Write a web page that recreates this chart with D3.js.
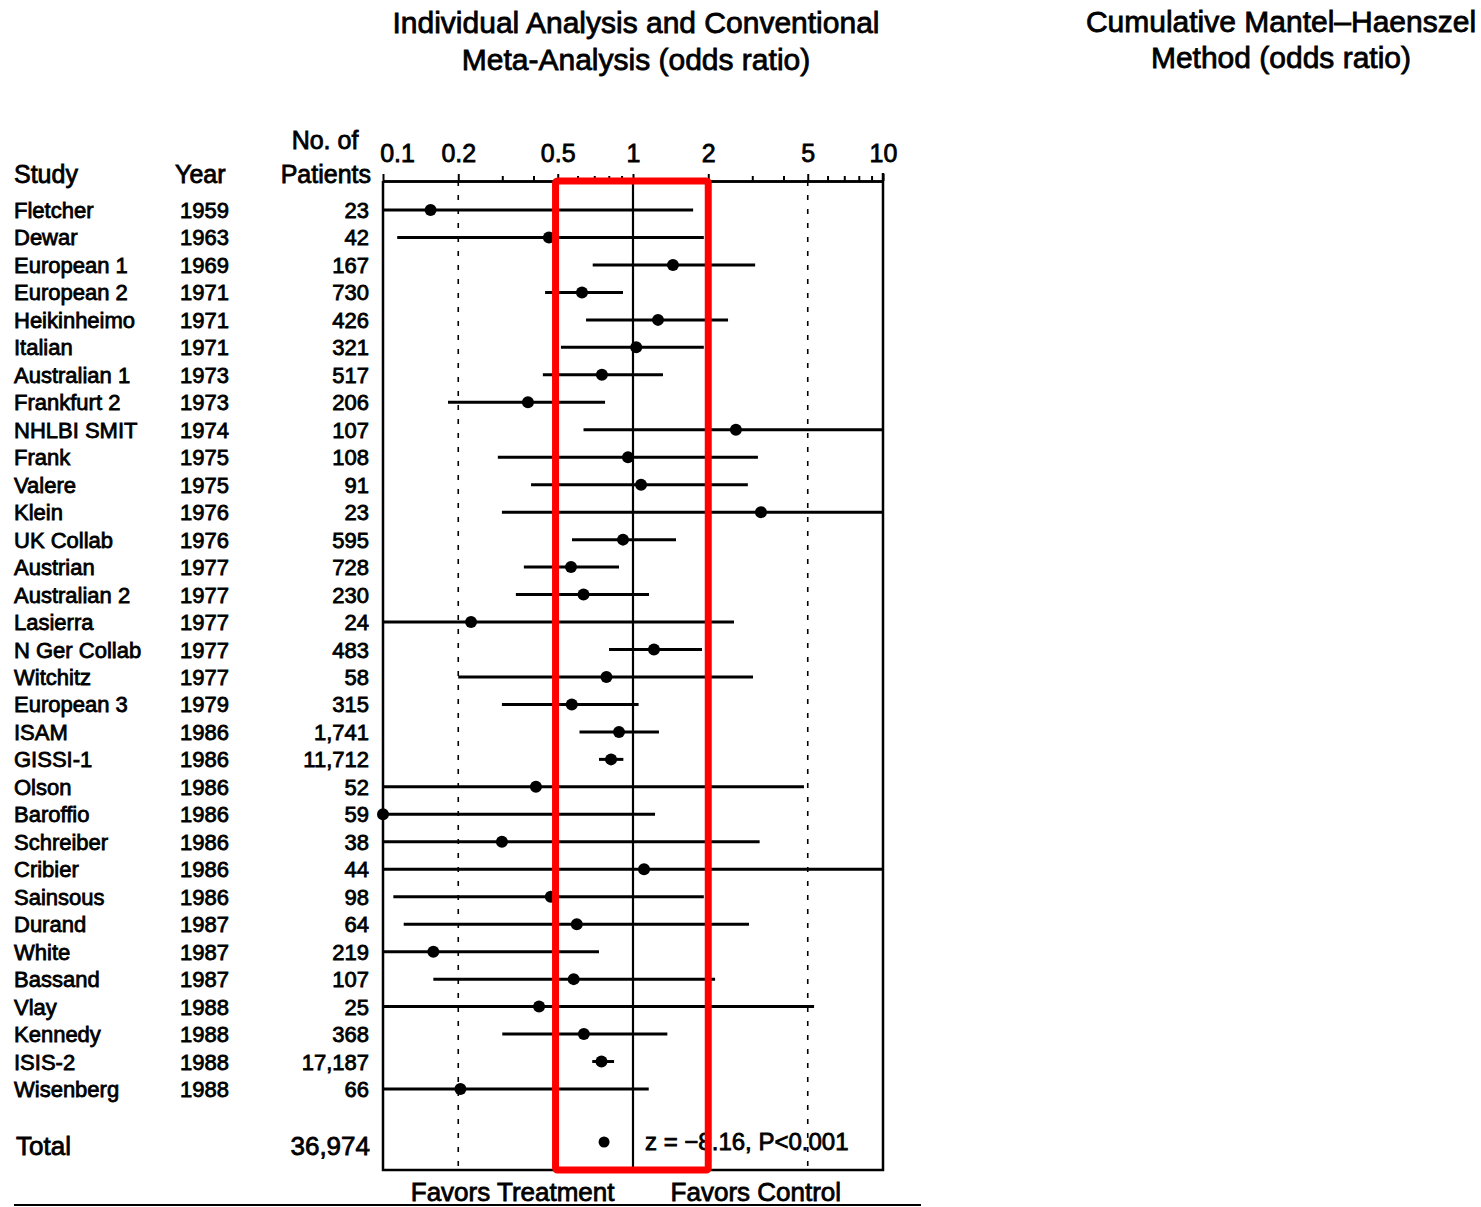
<!DOCTYPE html>
<html>
<head>
<meta charset="utf-8">
<script src="https://d3js.org/d3.v7.min.js"></script>
<style>
  body { margin: 0; background: #fff; }
  text { font-family: "Liberation Sans", Arial, Helvetica, sans-serif; fill: #000; stroke: #000; stroke-width: 0.8px; }
</style>
</head>
<body>
<div id="chart"></div>
<script>
// study rows, top to bottom
var studies = ["Fletcher","Dewar","European 1","European 2","Heikinheimo","Italian","Australian 1","Frankfurt 2",
  "NHLBI SMIT","Frank","Valere","Klein","UK Collab","Austrian","Australian 2","Lasierra","N Ger Collab","Witchitz",
  "European 3","ISAM","GISSI-1","Olson","Baroffio","Schreiber","Cribier","Sainsous","Durand","White","Bassand",
  "Vlay","Kennedy","ISIS-2","Wisenberg"];
var years = ["1959","1963","1969","1971","1971","1971","1973","1973","1974","1975","1975","1976","1976","1977",
  "1977","1977","1977","1977","1979","1986","1986","1986","1986","1986","1986","1986","1987","1987","1987",
  "1988","1988","1988","1988"];
var patients = ["23","42","167","730","426","321","517","206","107","108","91","23","595","728","230","24","483",
  "58","315","1,741","11,712","52","59","38","44","98","64","219","107","25","368","17,187","66"];

// odds ratios with 95% CI (clipped to 0.1 - 10)
var oddsRatio = [0.155,0.461,1.445,0.625,1.259,1.03,0.751,0.380,2.58,0.955,1.077,3.25,0.912,0.565,0.634,0.225,
  1.213,0.783,0.569,0.879,0.817,0.409,0.1,0.299,1.107,0.469,0.596,0.159,0.579,0.421,0.636,0.748,0.204];
var lower = [0.1,0.114,0.69,0.445,0.649,0.515,0.436,0.182,0.634,0.288,0.391,0.299,0.570,0.366,0.340,0.1,
  0.802,0.200,0.299,0.611,0.731,0.1,0.1,0.1,0.1,0.110,0.121,0.1,0.159,0.1,0.30,0.687,0.1];
var upper = [1.74,1.92,3.08,0.912,2.40,1.92,1.318,0.773,10,3.16,2.88,10,1.486,0.879,1.159,2.535,
  1.888,3.02,1.053,1.27,0.915,4.83,1.225,3.21,10,1.92,2.91,0.731,2.13,5.30,1.372,0.84,1.156];

var totalPatients = "36,974";
var totalOR = 0.766;
var totalNote = "z = \u22128.16, P<0.001";

var majorTicks = [0.1,0.2,0.5,1,2,5,10];
var minorTicks = [0.3,0.4,0.6,0.7,0.8,0.9,3,4,6,7,8,9];
var dottedRefs = [0.2,5];
var highlight = [0.49,2];

var width = 1481, height = 1207;
var plotTop = 181, plotBottom = 1170;

var svg = d3.select("#chart")
  .append("svg")
    .attr("width", width)
    .attr("height", height);

// scales
var x = d3.scaleLog()
  .domain([0.1, 10])
  .range([383, 883]);

var y = d3.scalePoint()
  .domain(studies)
  .range([210, 1089]);

var totalY = 1142;

// titles
var titles = svg.append("g")
  .style("font-size", "30px")
  .attr("text-anchor", "middle");
titles.append("text").attr("x", 636).attr("y", 33).text("Individual Analysis and Conventional");
titles.append("text").attr("x", 636).attr("y", 70).text("Meta-Analysis (odds ratio)");
titles.append("text").attr("x", 1281).attr("y", 32).text("Cumulative Mantel\u2013Haenszel");
titles.append("text").attr("x", 1281).attr("y", 68).text("Method (odds ratio)");

// column headers
var head = svg.append("g").style("font-size", "25px");
head.append("text").attr("x", 14).attr("y", 183).text("Study");
head.append("text").attr("x", 175).attr("y", 183).text("Year");
head.append("text").attr("x", 325).attr("y", 149).attr("text-anchor", "middle").text("No. of");
head.append("text").attr("x", 371).attr("y", 183).attr("text-anchor", "end").text("Patients");

// row labels
var rows = svg.append("g").style("font-size", "22px");
rows.selectAll(".study")
  .data(studies)
  .enter().append("text")
    .attr("x", 14)
    .attr("y", function(d) { return y(d) + 8 })
    .text(function(d) { return d });
rows.selectAll(".year")
  .data(studies)
  .enter().append("text")
    .attr("x", 180)
    .attr("y", function(d) { return y(d) + 8 })
    .text(function(d, i) { return years[i] });
rows.selectAll(".pat")
  .data(studies)
  .enter().append("text")
    .attr("x", 369)
    .attr("y", function(d) { return y(d) + 8 })
    .attr("text-anchor", "end")
    .text(function(d, i) { return patients[i] });

// total row
var tot = svg.append("g").style("font-size", "26px");
tot.append("text").attr("x", 16).attr("y", totalY + 13).text("Total");
tot.append("text").attr("x", 370).attr("y", totalY + 13).attr("text-anchor", "end").text(totalPatients);

// top axis
var axisG = svg.append("g")
  .attr("transform", "translate(0," + plotTop + ")");
axisG.call(d3.axisTop(x)
  .tickValues(majorTicks)
  .tickFormat(d3.format(""))
  .tickSize(7)
  .tickSizeOuter(0)
  .tickPadding(12));
axisG.append("g").call(d3.axisTop(x)
  .tickValues(minorTicks)
  .tickFormat("")
  .tickSize(5)
  .tickSizeOuter(0));
axisG.selectAll("path.domain").attr("stroke", "#000").attr("stroke-width", 2.5);
axisG.selectAll(".tick line").attr("stroke", "#000").attr("stroke-width", 2);
axisG.selectAll(".tick text")
  .style("font-size", "25px")
  .style("font-family", "'Liberation Sans', Arial, sans-serif")
  .attr("dx", function(d) { return d === 0.1 ? 14 : 0 });

// frame sides and bottom
svg.append("path")
  .attr("d", "M" + x(0.1) + "," + plotTop + "V" + plotBottom + "H" + x(10) + "V" + (plotTop - 8))
  .attr("fill", "none")
  .attr("stroke", "#000")
  .attr("stroke-width", 2.5);

// reference lines
svg.selectAll(".dotted")
  .data(dottedRefs)
  .enter().append("line")
    .attr("x1", function(d) { return x(d) })
    .attr("x2", function(d) { return x(d) })
    .attr("y1", plotTop)
    .attr("y2", plotBottom)
    .attr("stroke", "#000")
    .attr("stroke-width", 1.6)
    .attr("stroke-dasharray", "5,9");
svg.append("line")
  .attr("x1", x(1)).attr("x2", x(1))
  .attr("y1", plotTop).attr("y2", plotBottom)
  .attr("stroke", "#000")
  .attr("stroke-width", 2.2);

// confidence intervals
svg.selectAll(".ci")
  .data(studies)
  .enter().append("line")
    .attr("x1", function(d, i) { return x(lower[i]) })
    .attr("x2", function(d, i) { return x(upper[i]) })
    .attr("y1", function(d) { return y(d) })
    .attr("y2", function(d) { return y(d) })
    .attr("stroke", "#000")
    .attr("stroke-width", 3);

// point estimates
svg.selectAll(".pt")
  .data(studies)
  .enter().append("circle")
    .attr("cx", function(d, i) { return x(oddsRatio[i]) })
    .attr("cy", function(d) { return y(d) })
    .attr("r", 6)
    .attr("fill", "#000");

svg.append("circle")
  .attr("cx", x(totalOR))
  .attr("cy", totalY)
  .attr("r", 5.5)
  .attr("fill", "#000");

svg.append("text")
  .attr("x", 645)
  .attr("y", totalY + 8)
  .style("font-size", "24px")
  .text(totalNote);

// favors labels and bottom rule
var fav = svg.append("g").style("font-size", "26px").attr("text-anchor", "middle");
fav.append("text").attr("x", x(0.33)).attr("y", 1201).text("Favors Treatment");
fav.append("text").attr("x", x(3.1)).attr("y", 1201).text("Favors Control");
svg.append("line")
  .attr("x1", 14).attr("x2", 921)
  .attr("y1", 1205).attr("y2", 1205)
  .attr("stroke", "#000")
  .attr("stroke-width", 2);

// red highlight box
svg.append("rect")
  .attr("x", x(highlight[0]))
  .attr("y", plotTop)
  .attr("width", x(highlight[1]) - x(highlight[0]))
  .attr("height", plotBottom - plotTop)
  .attr("rx", 2)
  .attr("fill", "none")
  .attr("stroke", "#ff0000")
  .attr("stroke-width", 7);
</script>
</body>
</html>
